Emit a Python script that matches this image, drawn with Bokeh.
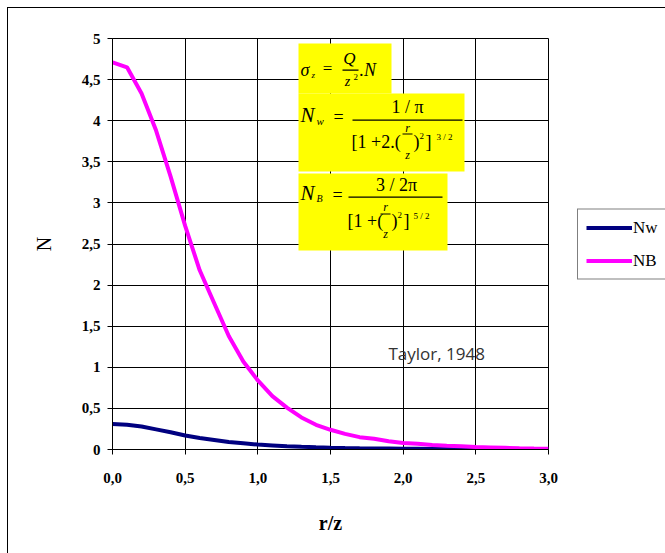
from bokeh.plotting import figure
from bokeh.models import (Range1d, FixedTicker, Label, BoxAnnotation, Legend,
                          LegendItem, CustomJSTickFormatter)
from bokeh.embed import file_html
from bokeh.resources import INLINE

# ---------------- data ----------------
r_over_z = [0.0, 0.1, 0.2, 0.3, 0.4, 0.5, 0.6, 0.7, 0.8, 0.9, 1.0,
            1.1, 1.2, 1.3, 1.4, 1.5, 1.6, 1.7, 1.8, 1.9, 2.0,
            2.1, 2.2, 2.3, 2.4, 2.5, 2.6, 2.7, 2.8, 2.9, 3.0]
NB = [4.71, 4.65, 4.33, 3.88, 3.32, 2.72, 2.18, 1.78, 1.38, 1.07, 0.84,
      0.65, 0.51, 0.39, 0.30, 0.24, 0.19, 0.15, 0.13, 0.10, 0.08,
      0.07, 0.055, 0.045, 0.04, 0.03, 0.025, 0.02, 0.015, 0.012, 0.01]
Nw = [0.31, 0.30, 0.28, 0.245, 0.21, 0.17, 0.14, 0.115, 0.09, 0.075, 0.06,
      0.05, 0.04, 0.033, 0.027, 0.022, 0.018, 0.015, 0.013, 0.011, 0.009,
      0.008, 0.007, 0.006, 0.005, 0.005, 0.004, 0.004, 0.003, 0.003, 0.003]
series_names = ["Nw", "NB"]

x_ticks = [0.0, 0.5, 1.0, 1.5, 2.0, 2.5, 3.0]
x_tick_labels = ["0,0", "0,5", "1,0", "1,5", "2,0", "2,5", "3,0"]
y_ticks = [0, 0.5, 1, 1.5, 2, 2.5, 3, 3.5, 4, 4.5, 5]
y_tick_labels = ["0", "0,5", "1", "1,5", "2", "2,5", "3", "3,5", "4", "4,5", "5"]

# ---------------- layout ----------------
W, H = 665, 553
FL, FT, FW, FH = 112, 38, 436, 411   # frame position inside canvas

p = figure(width=W, height=H, frame_width=FW, frame_height=FH,
           output_backend="svg", toolbar_location=None,
           x_range=Range1d(0, 3), y_range=Range1d(0, 5),
           min_border_left=FL, min_border_top=FT,
           min_border_right=W - FL - FW, min_border_bottom=H - FT - FH,
           background_fill_color="white", border_fill_color=None)
# outer chart-area border (left and top edges only are inside the window)
p.styles = {"background": "linear-gradient(black, black) 7px 7px / 1px 3000px no-repeat, "
                          "linear-gradient(black, black) 7px 7px / 3000px 1px no-repeat, white"}
p.outline_line_color = "black"
p.outline_line_width = 1


def fmt(tv, lbl):
    return CustomJSTickFormatter(args=dict(tv=tv, lbl=lbl), code="""
        const i = tv.findIndex(t => Math.abs(t - tick) < 1e-9);
        return i >= 0 ? lbl[i] : '';
    """)


p.xaxis.ticker = FixedTicker(ticks=x_ticks)
p.yaxis.ticker = FixedTicker(ticks=y_ticks)
p.xaxis.formatter = fmt(x_ticks, x_tick_labels)
p.yaxis.formatter = fmt(y_ticks, y_tick_labels)
for ax in (p.xaxis[0], p.yaxis[0]):
    ax.axis_line_color = "black"
    ax.major_tick_line_color = "black"
    ax.major_tick_out = 5
    ax.major_tick_in = 0
    ax.minor_tick_line_color = None
    ax.major_label_text_font = "Liberation Serif"
    ax.major_label_text_font_style = "bold"
    ax.major_label_text_font_size = "15px"
    ax.major_label_text_color = "black"
    ax.axis_label_text_font = "Liberation Serif"
    ax.axis_label_text_color = "black"
    ax.axis_label_text_font_size = "20px"

p.xaxis.axis_label = "r/z"
p.xaxis.axis_label_text_font_style = "bold"
p.xaxis.major_label_standoff = 18
p.xaxis.axis_label_standoff = 26
p.yaxis.axis_label = "N"
p.yaxis.axis_label_text_font_style = "normal"
p.yaxis.major_label_standoff = 7
p.yaxis.axis_label_standoff = 24

p.grid.grid_line_color = "black"
p.grid.grid_line_alpha = 1
p.grid.grid_line_width = 1

r1 = p.line(r_over_z, Nw, line_color="#000080", line_width=4)
r2 = p.line(r_over_z, NB, line_color="#FF00FF", line_width=4)

legend = Legend(items=[LegendItem(label=series_names[0], renderers=[r1]),
                       LegendItem(label=series_names[1], renderers=[r2])],
                location="center_left", orientation="vertical",
                border_line_color="black", border_line_width=1,
                background_fill_color="white", background_fill_alpha=1,
                label_text_font="Liberation Serif", label_text_font_size="17px",
                label_text_color="black",
                glyph_width=46, glyph_height=20, spacing=13, padding=8,
                margin=29, label_standoff=1)
p.add_layout(legend, "right")


# ---------------- formula boxes (positions in canvas pixels -> data) ----------
def X(px):
    return (px - FL) * 3.0 / FW


def Y(py):
    return (FT + FH - py) * 5.0 / FH


def box(l, r, t, b, color="#FFFF00"):
    p.add_layout(BoxAnnotation(left=X(l), right=X(r), top=Y(t), bottom=Y(b),
                               fill_color=color, fill_alpha=1, line_color=None,
                               line_alpha=0))


def txt(x, y, s, size=16, style="italic", align="left", color="black",
        font="Liberation Serif"):
    p.add_layout(Label(x=X(x), y=Y(y), text=s, text_font=font,
                       text_font_style=style, text_font_size=f"{size}px",
                       text_align=align, text_baseline="middle",
                       text_color=color))


box(298, 391, 43, 93)
box(298, 464, 93, 171)
box(298, 447, 173, 250)

# sigma_z = Q / z^2 . N
txt(300, 69, "σ", 18)
txt(311, 74, "z", 9)
txt(327, 68, "=", 17, "normal", "center")
txt(349, 58, "Q", 17, align="center")
box(342, 358, 69, 70.2, "black")
txt(347, 81, "z", 14, align="center")
txt(353, 76, "2", 9, "normal")
txt(359, 69, ".N", 18)

# N_w = (1/pi) / [1+2.(r/z)^2]^(3/2)
txt(300, 114, "N", 21)
txt(316, 120, "w", 11)
txt(338, 116, "=", 18, "normal", "center")
txt(407, 106, "1 / π", 18, "normal", "center")
box(352, 462, 119, 120.2, "black")
txt(351, 141, "[1 +2.(", 18, "normal")
txt(407, 127, "r", 12, align="center")
box(402, 412, 133, 134, "black")
txt(407, 154, "z", 12, align="center")
txt(413, 141, ")", 18, "normal")
txt(419, 135, "2", 9, "normal")
txt(425, 141, "]", 18, "normal")
txt(436, 136, "3 / 2", 9, "normal")

# N_B = (3/2pi) / [1+(r/z)^2]^(5/2)
txt(300, 192, "N", 21)
txt(316, 198, "B", 10)
txt(337, 194, "=", 18, "normal", "center")
txt(396, 184, "3 / 2π", 18, "normal", "center")
box(348, 442, 196, 197.2, "black")
txt(347, 220, "[1 +(", 18, "normal")
txt(385, 206, "r", 12, align="center")
box(380, 390, 213, 214, "black")
txt(385, 233, "z", 12, align="center")
txt(391, 220, ")", 18, "normal")
txt(397, 214, "2", 9, "normal")
txt(403, 220, "]", 18, "normal")
txt(413, 215, "5 / 2", 9, "normal")

# source note
txt(388, 353, "Taylor, 1948", 17, "normal", "left", "#333333", "Open Sans")

open("out.html", "w").write(file_html(p, INLINE))
